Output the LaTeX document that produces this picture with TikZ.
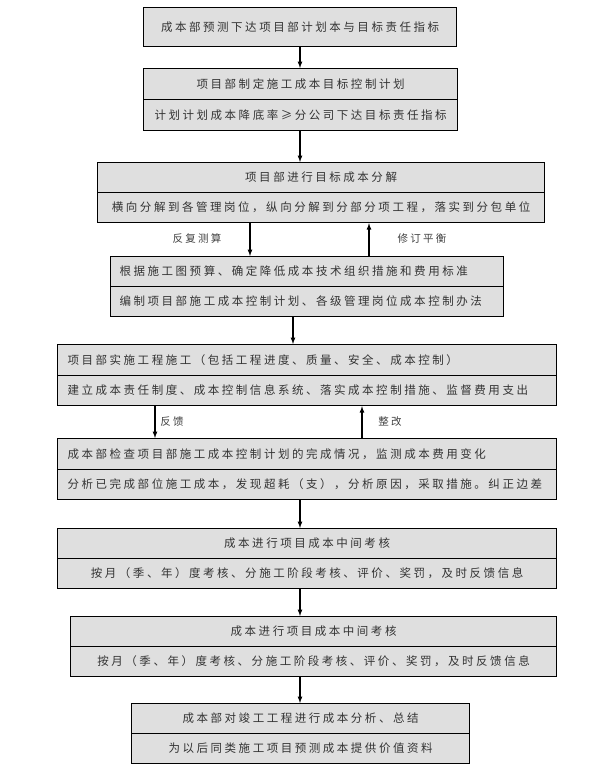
\documentclass[tikz,border=0pt]{standalone}
\usepackage{fontspec}
\newfontfamily\cjk[LetterSpace=22]{Noto Sans CJK SC}
\usetikzlibrary{positioning}
\begin{document}
\begin{tikzpicture}[
  x=1pt, y=-1pt,
  cell/.style={draw=black, line width=1.2pt, fill=gray!25, anchor=north west,
    inner sep=0pt, font=\cjk\fontsize{11.5}{13}\selectfont, text=black!80},
  arw/.style={-latex, line width=1.2pt},
  lbl/.style={font=\cjk\fontsize{10.5}{12}\selectfont, text=black!75}
  ]
\useasboundingbox (0,0) rectangle (607,772);

% box 1
\node [cell, minimum width=313pt, minimum height=39pt] (b1) at (143,7) {成本部预测下达项目部计划本与目标责任指标};

% box 2
\node [cell, minimum width=314pt, minimum height=31pt] (b2t) at (143,68) {项目部制定施工成本目标控制计划};
\node [cell, minimum width=314pt, minimum height=31pt] (b2b) at (143,99) {计划计划成本降底率≥分公司下达目标责任指标};

% box 3
\node [cell, minimum width=447pt, minimum height=30pt] (b3t) at (97,162) {项目部进行目标成本分解};
\node [cell, minimum width=447pt, minimum height=30pt] (b3b) at (97,192) {横向分解到各管理岗位，纵向分解到分部分项工程，落实到分包单位};

% box 4
\node [cell, minimum width=393pt, minimum height=30pt, align=left, text width=393pt] (b4t) at (110,256) {\hspace*{9pt}根据施工图预算、确定降低成本技术组织措施和费用标准};
\node [cell, minimum width=393pt, minimum height=30pt, align=left, text width=393pt] (b4b) at (110,286) {\hspace*{9pt}编制项目部施工成本控制计划、各级管理岗位成本控制办法};

% box 5
\node [cell, minimum width=499pt, minimum height=31pt, align=left, text width=499pt] (b5t) at (57,344) {\hspace*{10pt}项目部实施工程施工（包括工程进度、质量、安全、成本控制）};
\node [cell, minimum width=499pt, minimum height=30pt, align=left, text width=499pt] (b5b) at (57,375) {\hspace*{10pt}建立成本责任制度、成本控制信息系统、落实成本控制措施、监督费用支出};

% box 6
\node [cell, minimum width=499pt, minimum height=31pt, align=left, text width=499pt] (b6t) at (57,438) {\hspace*{10pt}成本部检查项目部施工成本控制计划的完成情况，监测成本费用变化};
\node [cell, minimum width=499pt, minimum height=30pt, align=left, text width=499pt] (b6b) at (57,469) {\hspace*{10pt}分析已完成部位施工成本，发现超耗（支），分析原因，采取措施。纠正边差};

% box 7
\node [cell, minimum width=499pt, minimum height=30pt] (b7t) at (57,528) {成本进行项目成本中间考核};
\node [cell, minimum width=499pt, minimum height=30pt] (b7b) at (57,558) {按月（季、年）度考核、分施工阶段考核、评价、奖罚，及时反馈信息};

% box 8
\node [cell, minimum width=486pt, minimum height=30pt] (b8t) at (70,616) {成本进行项目成本中间考核};
\node [cell, minimum width=486pt, minimum height=30pt] (b8b) at (70,646) {按月（季、年）度考核、分施工阶段考核、评价、奖罚，及时反馈信息};

% box 9
\node [cell, minimum width=338pt, minimum height=30pt] (b9t) at (131,703) {成本部对竣工工程进行成本分析、总结};
\node [cell, minimum width=338pt, minimum height=30pt] (b9b) at (131,733) {为以后同类施工项目预测成本提供价值资料};

% connectors
\draw [arw] (b1.south -| 300,0) -- (b2t.north -| 300,0);
\draw [arw] (b2b.south -| 300,0) -- (b3t.north -| 300,0);
\draw [arw] (b3b.south -| 250,0) -- (b4t.north -| 250,0);
\draw [arw] (b4t.north -| 369,0) -- (b3b.south -| 369,0);
\draw [arw] (b4b.south -| 293,0) -- (b5t.north -| 293,0);
\draw [arw] (b5b.south -| 155,0) -- (b6t.north -| 155,0);
\draw [arw] (b6t.north -| 362,0) -- (b5b.south -| 362,0);
\draw [arw] (b6b.south -| 300,0) -- (b7t.north -| 300,0);
\draw [arw] (b7b.south -| 300,0) -- (b8t.north -| 300,0);
\draw [arw] (b8b.south -| 300,0) -- (b9t.north -| 300,0);

\node [lbl] (l1) at (197,238) {反复测算};
\node [lbl] (l2) at (422,238) {修订平衡};
\node [lbl] (l3) at (172,422) {反馈};
\node [lbl] (l4) at (390,422) {整改};
\end{tikzpicture}
\end{document}
